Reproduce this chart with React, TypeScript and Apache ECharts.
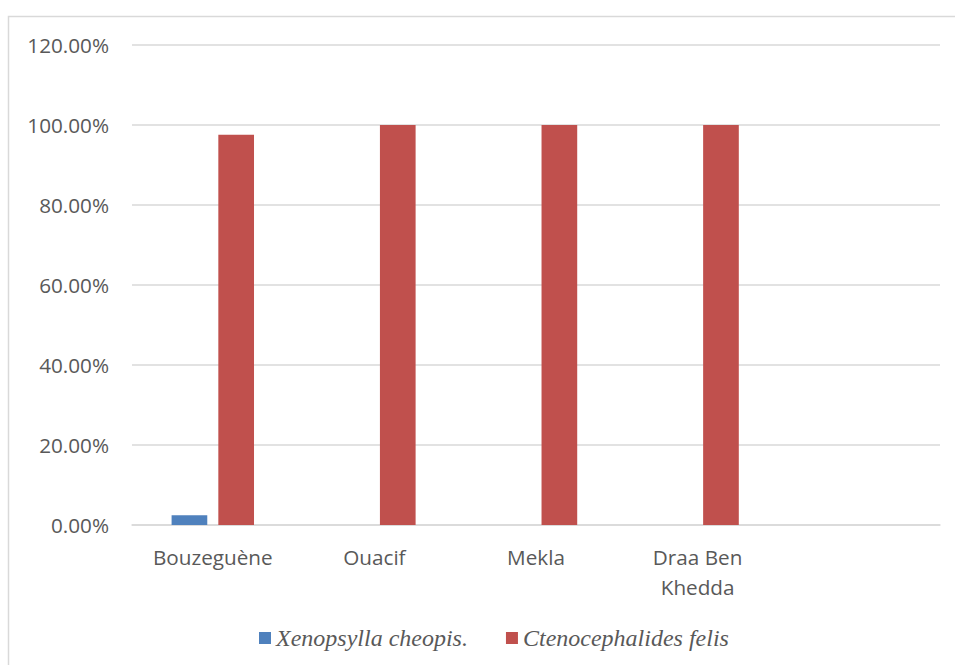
import React, { useEffect, useRef } from "react";
import * as echarts from "echarts";

const categories = ["Bouzeguène", "Ouacif", "Mekla", "Draa Ben\nKhedda", ""];
const xenopsylla = [2.44, 0, 0, 0, null];
const ctenocephalides = [97.56, 100, 100, 100, null];
const seriesNames = ["Xenopsylla cheopis.", "Ctenocephalides felis"];

export default function App() {
  const ref = useRef<HTMLDivElement>(null);
  useEffect(() => {
    if (!ref.current) return;
    const chart = echarts.init(ref.current, null, { renderer: "svg" });
    const textColor = "#595959";
    chart.setOption({
      animation: false,
      backgroundColor: "#ffffff",
      graphic: [
        {
          type: "rect",
          shape: { x: 8.5, y: 16.5, width: 1200, height: 1200 },
          style: { fill: "none", stroke: "#d9d9d9", lineWidth: 1.5 },
          silent: true,
          z: -1,
        },
      ],
      grid: { left: 132, right: 15, top: 45, bottom: 140 },
      legend: {
        left: 254,
        top: 621,
        icon: "rect",
        itemWidth: 12,
        itemHeight: 12,
        itemGap: 38,
        textStyle: {
          fontFamily: "Liberation Serif",
          fontStyle: "italic",
          fontSize: 24,
          color: textColor,
        },
        data: seriesNames,
      },
      xAxis: {
        type: "category",
        data: categories,
        axisLine: { lineStyle: { color: "#d9d9d9", width: 1.5 } },
        axisTick: { show: false },
        axisLabel: {
          fontFamily: "Open Sans",
          fontSize: 20.7,
          lineHeight: 30,
          color: textColor,
          margin: 17,
          interval: 0,
        },
      },
      yAxis: {
        type: "value",
        min: 0,
        max: 120,
        interval: 20,
        axisLine: { show: false },
        axisTick: { show: false },
        splitLine: { lineStyle: { color: "#d9d9d9", width: 1.5 } },
        axisLabel: {
          fontFamily: "Open Sans",
          fontSize: 20.7,
          color: textColor,
          margin: 23,
          formatter: (v: number) => v.toFixed(2) + "%",
        },
      },
      series: [
        {
          name: seriesNames[0],
          type: "bar",
          data: xenopsylla,
          itemStyle: { color: "#4f81bd" },
          barGap: "31%",
          barCategoryGap: "49%",
        },
        {
          name: seriesNames[1],
          type: "bar",
          data: ctenocephalides,
          itemStyle: { color: "#c0504d" },
          barGap: "31%",
          barCategoryGap: "49%",
        },
      ],
    });
    return () => chart.dispose();
  }, []);
  return (
    <div
      ref={ref}
      style={{ position: "fixed", left: 0, top: 0, width: 955, height: 665 }}
    />
  );
}
